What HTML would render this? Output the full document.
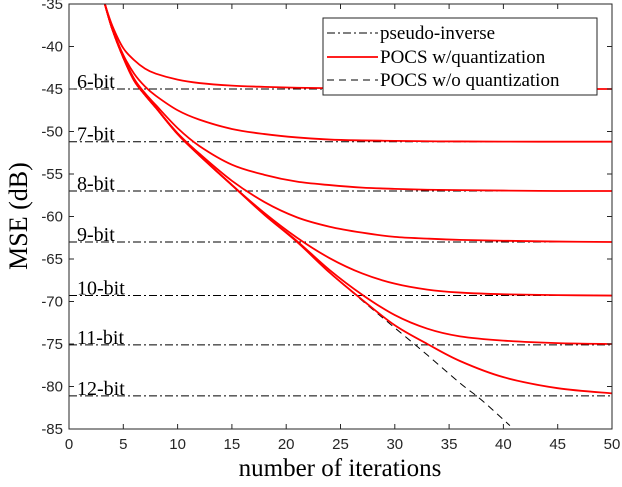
<!DOCTYPE html>
<html><head><meta charset="utf-8"><style>
body{margin:0;background:#fff;}
svg text{font-family:"Liberation Sans",sans-serif;}
.serif{font-family:"Liberation Serif",serif !important;}
</style></head><body>
<svg id="chart" width="622" height="482" xmlns="http://www.w3.org/2000/svg"></svg>
<script>
const xTicks=[0,5,10,15,20,25,30,35,40,45,50];
const yTicks=[-35,-40,-45,-50,-55,-60,-65,-70,-75,-80,-85];
const bitLabels=["6-bit","7-bit","8-bit","9-bit","10-bit","11-bit","12-bit"];
const pinvLevels=[-45,-51.2,-57,-63,-69.3,-75.1,-81.1];
const iters=[3.3,4,5,6,7,8,10,12,15,18,21,24,27,30,33,36,40,45,50];
const q6=[-35,-37.6,-40.2,-41.6,-42.6,-43.2,-43.9,-44.3,-44.6,-44.75,-44.85,-44.9,-44.93,-44.95,-44.97,-44.98,-45,-45,-45];
const q7=[-35,-37.9,-41,-43.2,-44.7,-45.8,-47.5,-48.6,-49.7,-50.3,-50.7,-50.95,-51.05,-51.1,-51.15,-51.17,-51.19,-51.2,-51.2];
const q8=[-35,-38,-41.2,-43.8,-45.5,-46.9,-49.6,-51.7,-53.9,-55.1,-55.9,-56.3,-56.6,-56.75,-56.85,-56.9,-56.95,-57,-57];
const q9=[-35,-38,-41.3,-44,-45.7,-47.2,-50.2,-52.6,-55.8,-58.3,-60.1,-61.2,-61.9,-62.4,-62.6,-62.75,-62.85,-62.95,-63];
const q10=[-35,-38,-41.3,-44,-45.7,-47.2,-50.3,-52.8,-56.3,-59.6,-62.5,-64.9,-66.7,-67.9,-68.6,-68.95,-69.15,-69.25,-69.3];
const q11=[-35,-38,-41.3,-44,-45.7,-47.2,-50.3,-52.8,-56.3,-59.8,-62.9,-66.3,-69.2,-71.6,-73.2,-74.1,-74.6,-74.9,-75];
const q12=[-35,-38,-41.3,-44,-45.7,-47.2,-50.3,-52.8,-56.3,-59.8,-63,-66.6,-69.8,-72.8,-75,-77,-78.9,-80.2,-80.8];
const baseIters=[3.3,4,5,6,7,8,10,12,15,18,21,24,27,30,33,36,38,40.6];
const baseVals=[-35,-38,-41.3,-44,-45.7,-47.2,-50.3,-52.8,-56.3,-59.8,-63,-66.6,-69.9,-73.1,-76.3,-79.6,-81.6,-84.6];
const qSeries=[q6,q7,q8,q9,q10,q11,q12];

const L=69,R=612,T=4,B=429;
const sx=v=>L+(v-0)/50*(R-L);
const sy=v=>T+(-35-v)/50*(B-T);
const NS="http://www.w3.org/2000/svg";
const svg=document.getElementById('chart');
function mk(tag,attrs,parent){const e=document.createElementNS(NS,tag);for(const k in attrs)e.setAttribute(k,attrs[k]);(parent||svg).appendChild(e);return e;}
function smooth(xs,ys){
  const p=xs.map((x,i)=>[sx(x),sy(ys[i])]);
  let d='M'+p[0][0]+','+p[0][1];
  for(let i=0;i<p.length-1;i++){
    const p0=p[i-1]||p[i],p1=p[i],p2=p[i+1],p3=p[i+2]||p2;
    const c1=[p1[0]+(p2[0]-p0[0])/6,p1[1]+(p2[1]-p0[1])/6];
    const c2=[p2[0]-(p3[0]-p1[0])/6,p2[1]-(p3[1]-p1[1])/6];
    d+=' C'+c1[0]+','+c1[1]+' '+c2[0]+','+c2[1]+' '+p2[0]+','+p2[1];
  }
  return d;
}

pinvLevels.forEach((lv,i)=>{
  const l=mk('line',{x1:L,x2:R,y1:sy(lv),y2:sy(lv),stroke:'#000','stroke-width':1,'stroke-dasharray':'8,3,2,3'});
  
  
});
const bp=mk('path',{d:smooth(baseIters,baseVals),fill:'none',stroke:'#000','stroke-width':1,'stroke-dasharray':'7,5'});


qSeries.forEach((s,i)=>{
  const p=mk('path',{d:smooth(iters,s),fill:'none',stroke:'#ff0000','stroke-width':1.8,'stroke-linejoin':'round'});
  
  
});
pinvLevels.forEach((lv,i)=>{
  const t=mk('text',{x:77,y:sy(lv)-1,'font-size':20,fill:'#000',class:'serif'});
  t.textContent=bitLabels[i];
  
  
});
const box=mk('rect',{x:L,y:T,width:R-L,height:B-T,fill:'none',stroke:'#262626','stroke-width':1});


xTicks.forEach(v=>{
  const x=sx(v);
  mk('line',{x1:x,x2:x,y1:B,y2:B-5,stroke:'#262626'});
  mk('line',{x1:x,x2:x,y1:T,y2:T+5,stroke:'#262626'});
  const t=mk('text',{x:x,y:B+20,'font-size':15,fill:'#262626','text-anchor':'middle'});
  t.textContent=v;
  
  
});
yTicks.forEach(v=>{
  const y=sy(v);
  mk('line',{x1:L,x2:L+5,y1:y,y2:y,stroke:'#262626'});
  mk('line',{x1:R,x2:R-5,y1:y,y2:y,stroke:'#262626'});
  const t=mk('text',{x:L-6,y:y+5,'font-size':15,fill:'#262626','text-anchor':'end'});
  t.textContent=v;
  
  
});
</script>
<svg style="position:absolute;left:0;top:0" width="622" height="482" xmlns="http://www.w3.org/2000/svg">
<text class="serif" x="340" y="476" font-size="25" text-anchor="middle" fill="#000">number of iterations</text>
<text class="serif" x="0" y="0" font-size="26" text-anchor="middle" fill="#000" transform="translate(27,216) rotate(-90)">MSE (dB)</text>
<g>
<rect x="323" y="18" width="274" height="77" fill="#fff" stroke="#262626" stroke-width="1"/>
<line x1="327" x2="378" y1="33" y2="33" stroke="#000" stroke-dasharray="8,3,2,3"/>
<text class="serif" x="380" y="39" font-size="19" fill="#000">pseudo-inverse</text>
<line x1="327" x2="378" y1="57" y2="57" stroke="#ff0000" stroke-width="1.8"/>
<text class="serif" x="380" y="63" font-size="19" fill="#000">POCS w/quantization</text>
<line x1="327" x2="378" y1="80" y2="80" stroke="#000" stroke-dasharray="7,5"/>
<text class="serif" x="380" y="86" font-size="19" fill="#000">POCS w/o quantization</text>
</g>
</svg>
</body></html>
